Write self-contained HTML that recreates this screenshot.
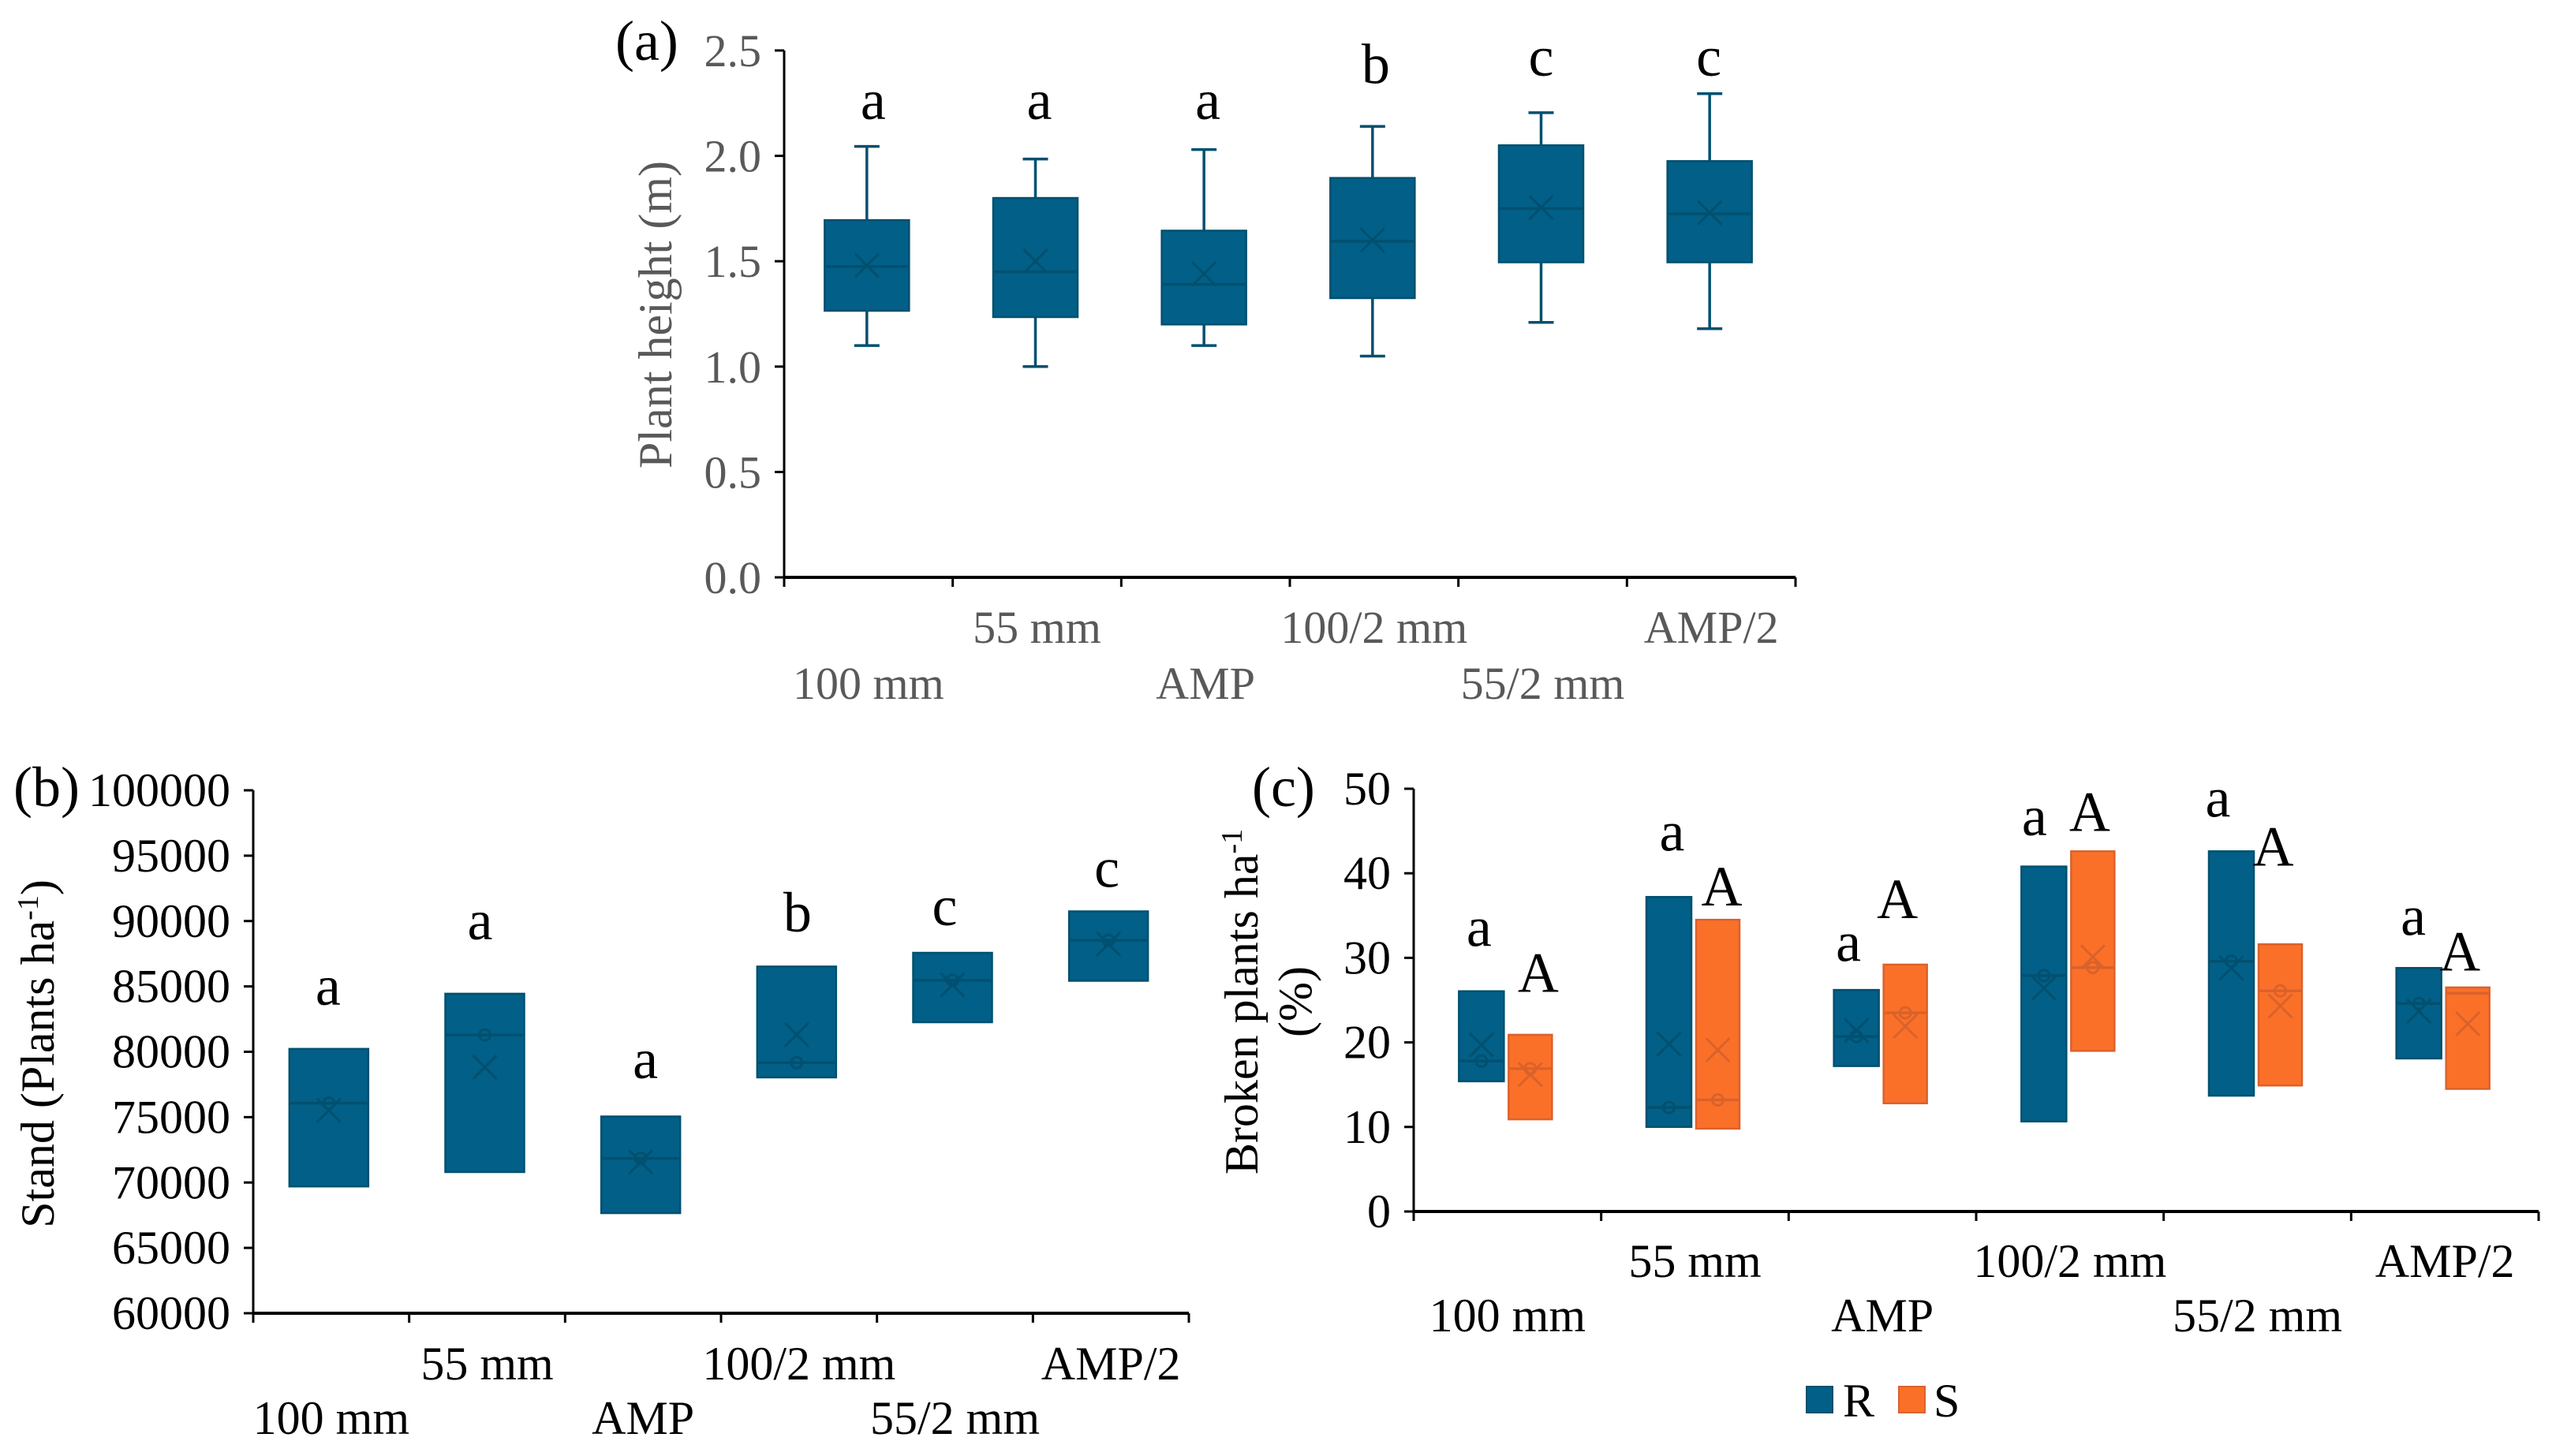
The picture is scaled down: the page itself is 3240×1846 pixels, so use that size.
<!DOCTYPE html>
<html lang="en">
<head>
<meta charset="utf-8">
<title>Plant height, stand and broken plants by row spacing</title>
<style>
html,body{margin:0;padding:0;background:#fff;width:3240px;height:1846px;overflow:hidden}
svg{display:block}
text{font-family:"Liberation Serif","Times New Roman",serif}
</style>
</head>
<body>
<svg id="figure" xmlns="http://www.w3.org/2000/svg" width="3240" height="1846" viewBox="0 0 3240 1846"></svg>
<script>
// Shared categories
const categories = ["100 mm","55 mm","AMP","100/2 mm","55/2 mm","AMP/2"];

// Panel (a) plant height (m)
const aTicks = [0,0.5,1,1.5,2,2.5];
const aTickLabels = ["0.0","0.5","1.0","1.5","2.0","2.5"];
const aLow = [1.10,1.00,1.10,1.05,1.21,1.18];
const aQ1 = [1.265,1.235,1.20,1.325,1.495,1.495];
const aMedian = [1.475,1.45,1.39,1.595,1.75,1.725];
const aMean = [1.48,1.50,1.44,1.60,1.755,1.73];
const aQ3 = [1.695,1.80,1.645,1.895,2.05,1.975];
const aHigh = [2.045,1.985,2.03,2.14,2.205,2.295];
const aLetters = ["a","a","a","b","c","c"];
const aLetterLevels = [2.175,2.175,2.175,2.345,2.38,2.38];

// Panel (b) stand (plants per ha)
const bTicks = [60000,65000,70000,75000,80000,85000,90000,95000,100000];
const bTickLabels = ["60000","65000","70000","75000","80000","85000","90000","95000","100000"];
const bQ1 = [69700,70800,67660,78040,82260,85430];
const bMedian = [76070,81280,71850,79170,85460,88530];
const bMean = [75520,78820,71570,81310,85120,88250];
const bQ3 = [80220,84440,75050,86520,87570,90740];
const bLetters = ["a","a","a","b","c","c"];
const bLetterLevels = [83590,88600,77970,89210,89680,92610];

// Panel (c) broken plants (%), series R and S
const cTicks = [0,10,20,30,40,50];
const cTickLabels = ["0","10","20","30","40","50"];
const seriesNames = ["R","S"];
const cRQ1 = [15.4,10.0,17.2,10.65,13.7,18.1];
const cRMedian = [17.8,12.3,20.7,27.9,29.6,24.6];
const cRMean = [19.7,19.8,21.4,26.4,28.8,23.7];
const cRQ3 = [26.05,37.2,26.2,40.8,42.6,28.8];
const cSQ1 = [10.9,9.8,12.8,19.0,14.9,14.5];
const cSMedian = [16.9,13.2,23.5,28.85,26.1,25.8];
const cSMean = [16.2,19.1,21.9,30.1,24.3,22.2];
const cSQ3 = [20.9,34.5,29.2,42.6,31.6,26.5];
const cRLetters = ["a","a","a","a","a","a"];
const cSLetters = ["A","A","A","A","A","A"];
const cRLetterLevels = [31.4,42.7,29.6,44.5,46.7,32.7];
const cSLetterLevels = [26,36.2,34.7,45,40.9,28.5];

const NS = "http://www.w3.org/2000/svg";
const root = document.getElementById("figure");
const BLUE = {fill:"#025f87",line:"#01506f"};
const ORANGE = {fill:"#fb7029",line:"#d9622b"};

function mk(tag, attrs, parent, txt){
  const el = document.createElementNS(NS, tag);
  for (const k in attrs) el.setAttribute(k, attrs[k]);
  if (txt !== undefined) el.textContent = txt;
  parent.appendChild(el);
  return el;
}
function linear(d0,d1,r0,r1){ return function(v){ return r0 + (v-d0)/(d1-d0)*(r1-r0); }; }

function drawAxes(p){
  const g = mk("g", {}, root);
  
  
  const yAxis = mk("line", {x1:p.x0,x2:p.x0,y1:p.top,y2:p.bottom,stroke:"#000","stroke-width":3}, g);
  
  
  const xAxis = mk("line", {x1:p.x0,x2:p.x1,y1:p.bottom,y2:p.bottom,stroke:"#000","stroke-width":4}, g);
  
  
  p.ticks.forEach(function(t,i){
    const y = p.y(t);
    const tick = mk("line", {x1:p.x0-12,x2:p.x0,y1:y,y2:y,stroke:"#000","stroke-width":3}, g);
    
    
    const lab = mk("text", {x:p.yLabelX,y:y+p.yLabelDy,"text-anchor":"end","font-size":p.fs,fill:p.tickColor}, g, p.tickLabels[i]);
    
    
  });
  const step = (p.x1-p.x0)/categories.length;
  for (let i=0;i<=categories.length;i++){
    const x = p.x0 + i*step;
    const tick = mk("line", {x1:x,x2:x,y1:p.bottom,y2:p.bottom+12,stroke:"#000","stroke-width":3}, g);
    
    
  }
  categories.forEach(function(c,i){
    const x = p.band(i) + p.catDx;
    const y = i%2===0 ? p.row2 : p.row1;
    const lab = mk("text", {x:x,y:y,"text-anchor":"middle","font-size":p.fs,fill:p.tickColor}, g, c);
    
    
  });
}

function drawBox(p, cx, w, i, s, col, dot, seriesName){
  const g = mk("g", {}, root);
  
  
  if (s.high){
    const cap = 16;
    const upper = mk("path", {d:"M"+(cx-cap)+" "+p.y(s.high[i])+"H"+(cx+cap)+"M"+cx+" "+p.y(s.high[i])+"V"+p.y(s.q3[i]),stroke:col.line,"stroke-width":3.5,fill:"none"}, g);
    
    
    const lower = mk("path", {d:"M"+(cx-cap)+" "+p.y(s.low[i])+"H"+(cx+cap)+"M"+cx+" "+p.y(s.low[i])+"V"+p.y(s.q1[i]),stroke:col.line,"stroke-width":3.5,fill:"none"}, g);
    
    
  }
  const yTop = p.y(s.q3[i]), yBot = p.y(s.q1[i]);
  const rect = mk("rect", {x:cx-w/2,y:yTop,width:w,height:yBot-yTop,fill:col.fill,stroke:col.line,"stroke-width":2.5}, g);
  
  
  const ym = p.y(s.median[i]);
  const med = mk("line", {x1:cx-w/2,x2:cx+w/2,y1:ym,y2:ym,stroke:col.line,"stroke-width":3.5}, g);
  
  
  if (dot){
    const c = mk("circle", {cx:cx,cy:ym,r:7,fill:"none",stroke:col.line,"stroke-width":3}, g);
    
    
  }
  const yx = p.y(s.mean[i]), m = 15;
  const mean = mk("path", {d:"M"+(cx-m)+" "+(yx-m)+"L"+(cx+m)+" "+(yx+m)+"M"+(cx-m)+" "+(yx+m)+"L"+(cx+m)+" "+(yx-m),stroke:col.line,"stroke-width":3,fill:"none"}, g);
  
  
}

function drawLetters(p, letters, levels, shifts, name){
  letters.forEach(function(l,i){
    const t = mk("text", {x:p.band(i)+shifts[i],y:p.y(levels[i]),"text-anchor":"middle","font-size":72,fill:"#000"}, root, l);
    
    
  });
}

function makePanel(id, x0, x1, top, bottom, dmin, dmax, ticks, tickLabels, o){
  const band = function(i){ return x0 + (i+0.5)*(x1-x0)/categories.length; };
  return Object.assign({id:id,x0:x0,x1:x1,top:top,bottom:bottom,ticks:ticks,tickLabels:tickLabels,band:band,y:linear(dmin,dmax,bottom,top)}, o);
}

/* Panel a */
const pa = makePanel("panel-a", 994, 2276, 64, 732, 0, 2.5, aTicks, aTickLabels,
  {fs:58,tickColor:"#595959",yLabelX:965,yLabelDy:20,catDx:0,row1:815,row2:886});
drawAxes(pa);
categories.forEach(function(c,i){
  drawBox(pa, pa.band(i)-2, 107, i, {low:aLow,q1:aQ1,median:aMedian,mean:aMean,q3:aQ3,high:aHigh}, BLUE, false, "main");
});
drawLetters(pa, aLetters, aLetterLevels, [6,3,3,2,-2,-3], "main");

/* Panel b */
const pb = makePanel("panel-b", 321, 1507, 1002, 1665, 60000, 100000, bTicks, bTickLabels,
  {fs:60,tickColor:"#000",yLabelX:292,yLabelDy:20,catDx:0,row1:1749,row2:1818});
drawAxes(pb);
categories.forEach(function(c,i){
  drawBox(pb, pb.band(i)-3, 100, i, {q1:bQ1,median:bMedian,mean:bMean,q3:bQ3}, BLUE, true, "main");
});
drawLetters(pb, bLetters, bLetterLevels, [-4,-9,3,-2,-13,-5], "main");

/* Panel c */
const pc = makePanel("panel-c", 1792, 3218, 1000, 1536, 0, 50, cTicks, cTickLabels,
  {fs:60,tickColor:"#000",yLabelX:1763,yLabelDy:20,catDx:0,row1:1619,row2:1688});
drawAxes(pc);
categories.forEach(function(c,i){
  drawBox(pc, pc.band(i)-33, 57, i, {q1:cRQ1,median:cRMedian,mean:cRMean,q3:cRQ3}, BLUE, true, seriesNames[0]);
  drawBox(pc, pc.band(i)+29, 55, i, {q1:cSQ1,median:cSMedian,mean:cSMean,q3:cSQ3}, ORANGE, i!==5, seriesNames[1]);
});
drawLetters(pc, cRLetters, cRLetterLevels, [-36,-29,-43,-45,-50,-40], "r");
drawLetters(pc, cSLetters, cSLetterLevels, [39,34,19,25,20,19], "s");

/* Panel labels */
const labA = mk("text", {x:780,y:76,"font-size":72,fill:"#000"}, root, "(a)");


const labB = mk("text", {x:17,y:1022,"font-size":72,fill:"#000"}, root, "(b)");


const labC = mk("text", {x:1587,y:1022,"font-size":72,fill:"#000"}, root, "(c)");



/* Axis titles */
const titleA = mk("text", {transform:"translate(851,399) rotate(-90)","text-anchor":"middle","font-size":60,fill:"#595959"}, root, "Plant height (m)");



const titleB = mk("text", {transform:"translate(68,1336) rotate(-90)","text-anchor":"middle","font-size":60,fill:"#000"}, root);


mk("tspan", {}, titleB, "Stand (Plants ha");
mk("tspan", {dy:-20,"font-size":38}, titleB, "-1");
mk("tspan", {dy:20}, titleB, ")");

const titleC1 = mk("text", {transform:"translate(1594,1270) rotate(-90)","text-anchor":"middle","font-size":60,fill:"#000"}, root);


mk("tspan", {}, titleC1, "Broken plants ha");
mk("tspan", {dy:-20,"font-size":38}, titleC1, "-1");
const titleC2 = mk("text", {transform:"translate(1662,1270) rotate(-90)","text-anchor":"middle","font-size":60,fill:"#000"}, root, "(%)");



/* Legend */
const legend = mk("g", {}, root);


const swR = mk("rect", {x:2290,y:1758,width:33,height:33,fill:BLUE.fill,stroke:BLUE.line,"stroke-width":2}, legend);


const txtR = mk("text", {x:2336,y:1796,"font-size":60,fill:"#000"}, legend, seriesNames[0]);


const swS = mk("rect", {x:2407,y:1758,width:33,height:33,fill:ORANGE.fill,stroke:ORANGE.line,"stroke-width":2}, legend);


const txtS = mk("text", {x:2451,y:1796,"font-size":60,fill:"#000"}, legend, seriesNames[1]);


</script>
</body>
</html>
